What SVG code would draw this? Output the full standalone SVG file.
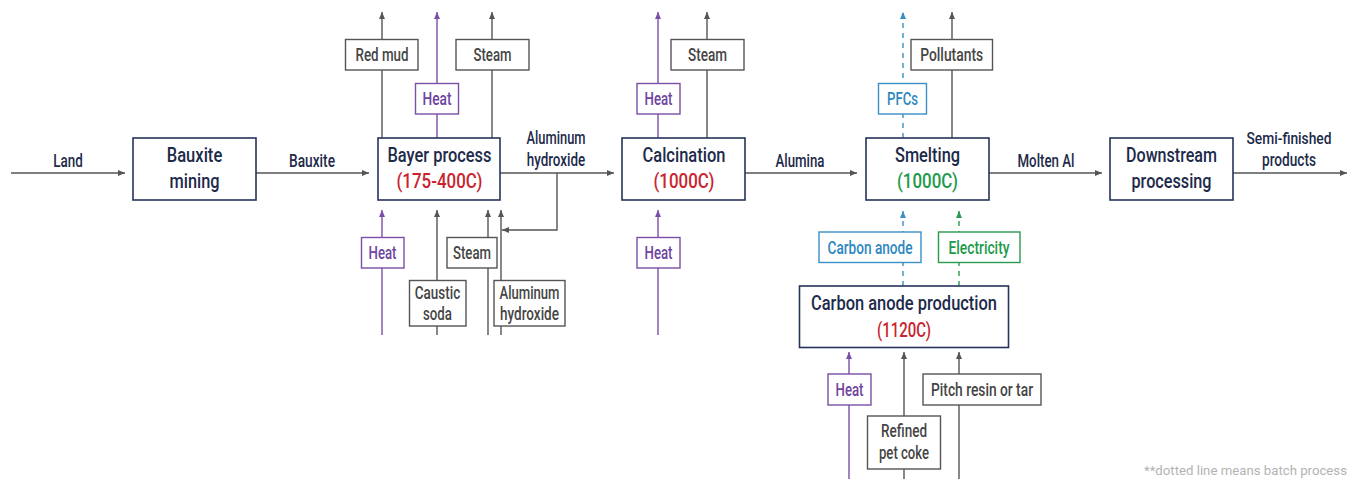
<svg xmlns="http://www.w3.org/2000/svg" width="1350" height="479" viewBox="0 0 1350 479">
<style>
text{font-family:Roboto,"Liberation Sans",sans-serif;font-weight:500;text-anchor:middle}
.t{font-size:21px;fill:#1d2a4a}
.l{font-size:18px;fill:#1d2a4a}
.g{font-size:18px;fill:#454545}
.red{fill:#c9242e}
.grn{fill:#1e9a4b}
.pt{font-size:18px;fill:#6e45a0}
.bt{font-size:18px;fill:#2d88bf}
.gt{font-size:18px;fill:#1e9a4b}
.main{fill:#fff;stroke:#26345a;stroke-width:1.6}
.box{fill:#fff;stroke:#555;stroke-width:1.4}
.pbox{fill:#fff;stroke:#7a4fa8;stroke-width:1.4}
.bbox{fill:#fff;stroke:#3a8fc4;stroke-width:1.4}
.gbox{fill:#fff;stroke:#2a9a50;stroke-width:1.4}
.c{fill:none;stroke:#555;stroke-width:1.4;marker-end:url(#ag)}
.cp{fill:none;stroke:#7a4fa8;stroke-width:1.4;marker-end:url(#ap)}
.cb{fill:none;stroke:#3a8fc4;stroke-width:1.4;stroke-dasharray:5 5;marker-end:url(#ab)}
.cg{fill:none;stroke:#2a9a50;stroke-width:1.4;stroke-dasharray:5 5;marker-end:url(#agr)}
.note{font-size:13px;font-weight:400;fill:#b3b3b3;text-anchor:start}
</style>
<defs>
<marker id="ag" markerUnits="userSpaceOnUse" markerWidth="8" markerHeight="7" refX="7" refY="3" orient="auto"><path d="M0,0 L7,3 L0,6 z" fill="#555"/></marker>
<marker id="ap" markerUnits="userSpaceOnUse" markerWidth="8" markerHeight="7" refX="7" refY="3" orient="auto"><path d="M0,0 L7,3 L0,6 z" fill="#7a4fa8"/></marker>
<marker id="ab" markerUnits="userSpaceOnUse" markerWidth="8" markerHeight="7" refX="7" refY="3" orient="auto"><path d="M0,0 L7,3 L0,6 z" fill="#3a8fc4"/></marker>
<marker id="agr" markerUnits="userSpaceOnUse" markerWidth="8" markerHeight="7" refX="7" refY="3" orient="auto"><path d="M0,0 L7,3 L0,6 z" fill="#2a9a50"/></marker>
</defs>
<rect width="1350" height="479" fill="#fff"/>
<g id="connectors">
<line class="c" x1="11" y1="173" x2="125" y2="173"/>
<line class="c" x1="256" y1="173" x2="369" y2="173"/>
<line class="c" x1="500" y1="173" x2="614" y2="173"/>
<polyline class="c" points="557,173 557,230 502,230"/>
<line class="c" x1="745" y1="173" x2="857" y2="173"/>
<line class="c" x1="989" y1="173" x2="1102" y2="173"/>
<line class="c" x1="1233" y1="173" x2="1347" y2="173"/>
<line class="c" x1="382" y1="138" x2="382" y2="12"/>
<line class="cp" x1="437" y1="138" x2="437" y2="12"/>
<line class="c" x1="492" y1="138" x2="492" y2="12"/>
<line class="cp" x1="382" y1="335" x2="382" y2="210"/>
<line class="c" x1="437" y1="335" x2="437" y2="210"/>
<line class="c" x1="488" y1="335" x2="488" y2="210"/>
<line class="c" x1="501" y1="335" x2="501" y2="210"/>
<line class="cp" x1="658" y1="138" x2="658" y2="12"/>
<line class="c" x1="707" y1="138" x2="707" y2="12"/>
<line class="cp" x1="658" y1="335" x2="658" y2="210"/>
<line class="cb" x1="903" y1="138" x2="903" y2="12"/>
<line class="c" x1="952" y1="138" x2="952" y2="12"/>
<line class="cb" x1="903" y1="286" x2="903" y2="211"/>
<line class="cg" x1="959" y1="286" x2="959" y2="211"/>
<line class="cp" x1="849" y1="479" x2="849" y2="352"/>
<line class="c" x1="904" y1="479" x2="904" y2="352"/>
<line class="c" x1="959" y1="479" x2="959" y2="352"/>
</g>
<g id="labels">
<text class="l" x="68" y="167" textLength="29.5" lengthAdjust="spacingAndGlyphs">Land</text>
<text class="l" x="312" y="167" textLength="46" lengthAdjust="spacingAndGlyphs">Bauxite</text>
<text class="l" x="556" y="144" textLength="59" lengthAdjust="spacingAndGlyphs">Aluminum</text>
<text class="l" x="556" y="166" textLength="58.5" lengthAdjust="spacingAndGlyphs">hydroxide</text>
<text class="l" x="800" y="167" textLength="49" lengthAdjust="spacingAndGlyphs">Alumina</text>
<text class="l" x="1046" y="167" textLength="57" lengthAdjust="spacingAndGlyphs">Molten Al</text>
<text class="l" x="1289" y="144" textLength="85" lengthAdjust="spacingAndGlyphs" style="font-size:16px">Semi-finished</text>
<text class="l" x="1289" y="166" textLength="54" lengthAdjust="spacingAndGlyphs">products</text>
</g>
<g id="bauxite-mining">
<rect class="main" x="133" y="138" width="123" height="62"/>
<text class="t" x="194.5" y="162" textLength="55.5" lengthAdjust="spacingAndGlyphs">Bauxite</text>
<text class="t" x="194.5" y="188" textLength="50" lengthAdjust="spacingAndGlyphs">mining</text>
</g>
<g id="bayer-process">
<rect class="main" x="378" y="138" width="122" height="62"/>
<text class="t" x="439.5" y="162" textLength="104" lengthAdjust="spacingAndGlyphs">Bayer process</text>
<text class="t red" x="439.5" y="188" textLength="86" lengthAdjust="spacingAndGlyphs">(175-400C)</text>
</g>
<g id="calcination">
<rect class="main" x="622" y="138" width="123" height="62"/>
<text class="t" x="684" y="162" textLength="83" lengthAdjust="spacingAndGlyphs">Calcination</text>
<text class="t red" x="684" y="188" textLength="61" lengthAdjust="spacingAndGlyphs">(1000C)</text>
</g>
<g id="smelting">
<rect class="main" x="866" y="138" width="123" height="62"/>
<text class="t" x="927.5" y="162" textLength="65" lengthAdjust="spacingAndGlyphs">Smelting</text>
<text class="t grn" x="927.5" y="188" textLength="61" lengthAdjust="spacingAndGlyphs">(1000C)</text>
</g>
<g id="downstream-processing">
<rect class="main" x="1110" y="138" width="123" height="62"/>
<text class="t" x="1171.5" y="162" textLength="91" lengthAdjust="spacingAndGlyphs">Downstream</text>
<text class="t" x="1171.5" y="188" textLength="80" lengthAdjust="spacingAndGlyphs">processing</text>
</g>
<g id="carbon-anode-production">
<rect class="main" x="799.5" y="286" width="209" height="61.5"/>
<text class="t" x="904" y="310" textLength="186" lengthAdjust="spacingAndGlyphs">Carbon anode production</text>
<text class="t red" x="904" y="337" textLength="54" lengthAdjust="spacingAndGlyphs">(1120C)</text>
</g>
<g id="red-mud">
<rect class="box" x="345.5" y="39.5" width="72.5" height="30.5"/>
<text class="g" x="382" y="61" textLength="53" lengthAdjust="spacingAndGlyphs">Red mud</text>
</g>
<g id="heat-bayer-top">
<rect class="pbox" x="415.5" y="83.5" width="43" height="30.5"/>
<text class="pt" x="437" y="105" textLength="29" lengthAdjust="spacingAndGlyphs">Heat</text>
</g>
<g id="steam-bayer-top">
<rect class="box" x="456" y="39.5" width="73" height="30.5"/>
<text class="g" x="492.5" y="61" textLength="38" lengthAdjust="spacingAndGlyphs">Steam</text>
</g>
<g id="heat-bayer-bottom">
<rect class="pbox" x="361.5" y="237.5" width="42.5" height="30.5"/>
<text class="pt" x="382.5" y="259" textLength="28" lengthAdjust="spacingAndGlyphs">Heat</text>
</g>
<g id="caustic-soda">
<rect class="box" x="409.5" y="280.5" width="56.5" height="45.5"/>
<text class="g" x="437.5" y="299" textLength="45.5" lengthAdjust="spacingAndGlyphs">Caustic</text>
<text class="g" x="437.5" y="320" textLength="29" lengthAdjust="spacingAndGlyphs">soda</text>
</g>
<g id="steam-bayer-bottom">
<rect class="box" x="447" y="237.5" width="50" height="30.5"/>
<text class="g" x="472" y="259" textLength="38" lengthAdjust="spacingAndGlyphs">Steam</text>
</g>
<g id="aluminum-hydroxide-input">
<rect class="box" x="494" y="280.5" width="71" height="45.5"/>
<text class="g" x="529.5" y="299" textLength="60" lengthAdjust="spacingAndGlyphs">Aluminum</text>
<text class="g" x="529.5" y="320" textLength="59" lengthAdjust="spacingAndGlyphs">hydroxide</text>
</g>
<g id="heat-calcination-top">
<rect class="pbox" x="637" y="83.5" width="43" height="30.5"/>
<text class="pt" x="658.5" y="105" textLength="28" lengthAdjust="spacingAndGlyphs">Heat</text>
</g>
<g id="steam-calcination">
<rect class="box" x="671" y="39.5" width="73" height="30.5"/>
<text class="g" x="707.5" y="61" textLength="39" lengthAdjust="spacingAndGlyphs">Steam</text>
</g>
<g id="heat-calcination-bottom">
<rect class="pbox" x="637" y="237.5" width="43" height="30.5"/>
<text class="pt" x="658.5" y="259" textLength="28" lengthAdjust="spacingAndGlyphs">Heat</text>
</g>
<g id="pfcs">
<rect class="bbox" x="878.5" y="83.5" width="48" height="30.5"/>
<text class="bt" x="902.5" y="105" textLength="31" lengthAdjust="spacingAndGlyphs">PFCs</text>
</g>
<g id="pollutants">
<rect class="box" x="911" y="39.5" width="81.5" height="30.5"/>
<text class="g" x="951.7" y="61" textLength="63" lengthAdjust="spacingAndGlyphs">Pollutants</text>
</g>
<g id="carbon-anode">
<rect class="bbox" x="819" y="232" width="102" height="30.5"/>
<text class="bt" x="870" y="254" textLength="85" lengthAdjust="spacingAndGlyphs">Carbon anode</text>
</g>
<g id="electricity">
<rect class="gbox" x="938.5" y="232" width="81.5" height="30.5"/>
<text class="gt" x="979" y="254" textLength="61" lengthAdjust="spacingAndGlyphs">Electricity</text>
</g>
<g id="heat-anode">
<rect class="pbox" x="828" y="374" width="43" height="31"/>
<text class="pt" x="849.5" y="396" textLength="28" lengthAdjust="spacingAndGlyphs">Heat</text>
</g>
<g id="refined-pet-coke">
<rect class="box" x="867.5" y="416" width="73" height="53"/>
<text class="g" x="904" y="437" textLength="46" lengthAdjust="spacingAndGlyphs">Refined</text>
<text class="g" x="904" y="459" textLength="50" lengthAdjust="spacingAndGlyphs">pet coke</text>
</g>
<g id="pitch-resin">
<rect class="box" x="923" y="374" width="118" height="31"/>
<text class="g" x="982" y="396" textLength="102" lengthAdjust="spacingAndGlyphs">Pitch resin or tar</text>
</g>
<text class="note" x="1144" y="475" textLength="203" lengthAdjust="spacingAndGlyphs">**dotted line means batch process</text>
</svg>
